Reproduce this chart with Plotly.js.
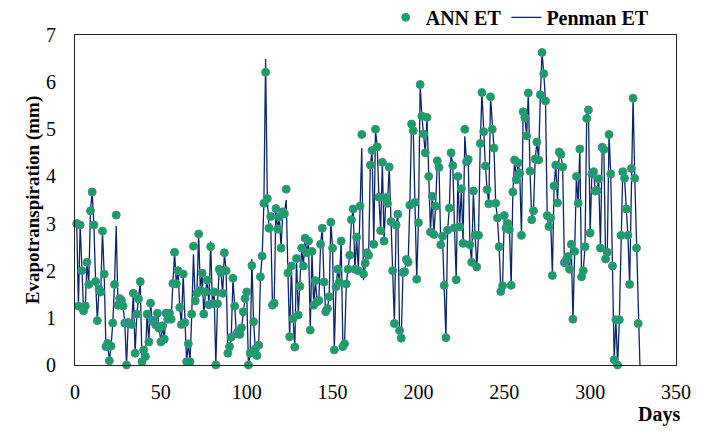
<!DOCTYPE html>
<html>
<head>
<meta charset="utf-8">
<script src="https://cdn.plot.ly/plotly-3.0.1.min.js"></script>
<style>
  body { margin: 0; background: #fff; }
  #chart { width: 716px; height: 434px; }
  #chart .xtick text, #chart .ytick text, #chart .g-ytitle text {
    font-family: "Liberation Serif", "Times New Roman", serif !important;
  }
</style>
</head>
<body>
<div id="chart"></div>
<script>
// daily evapotranspiration (mm)
var annET = [
  3.0, 1.25, 2.97, 2.0, 1.15, 1.25, 2.18, 1.71, 3.27, 3.67,
  2.97, 1.77, 0.94, 1.61, 1.55, 2.84, 1.93, 0.39, 0.46, 0.09,
  0.40, 0.89, 1.71, 3.18, 1.27, 1.41, 1.37, 1.25, 0.89, 0.0,
  0.9, 0.88, 0.86, 1.52, 0.25, 1.08, 1.4, 1.77, 0.07, 0.32,
  0.18, 1.08, 0.49, 1.31, 0.94, 0.94, 0.85, 1.10, 0.78, 0.49,
  0.83, 0.55, 1.10, 0.97, 1.10, 0.97, 1.73, 2.39, 1.72, 2.0,
  1.22, 0.86, 1.93, 0.9, 0.07, 0.45, 0.07, 1.08, 2.52, 1.36,
  1.52, 2.78, 1.58, 1.95, 1.08, 1.55, 1.80, 1.28, 2.51, 1.3,
  1.55, 0.0, 1.3, 2.03, 1.96, 1.52, 2.38, 2.0, 0.25, 0.39,
  0.59, 1.84, 1.25, 0.66, 0.71, 0.65, 0.79, 1.13, 1.41, 1.55,
  0.0, 0.25, 2.11, 0.92, 0.34, 0.2, 0.42, 1.87, 2.31, 3.43,
  6.21, 3.53, 2.9, 3.15, 1.27, 1.31, 3.32, 2.88, 3.14, 2.48,
  3.25, 3.21, 3.73, 1.95, 0.6, 2.1, 0.98, 0.38, 2.26, 1.06,
  1.67, 2.48, 2.1, 2.69, 2.38, 2.63, 0.74, 2.41, 1.27, 1.79,
  1.34, 1.37, 2.56, 2.9, 1.76, 1.13, 1.2, 1.45, 3.03, 2.48,
  0.32, 1.66, 2.03, 1.76, 2.63, 0.39, 0.45, 1.72, 2.03, 2.33,
  3.08, 3.31, 2.03, 2.71, 2.0, 3.37, 4.89, 1.93, 2.16, 2.38,
  2.33, 4.24, 4.55, 2.56, 5.0, 4.63, 3.56, 2.85, 4.3, 2.63,
  3.55, 3.43, 4.20, 3.04, 2.0, 0.88, 2.97, 3.2, 0.73, 0.57,
  1.96, 1.98, 2.24, 2.18, 3.39, 5.11, 4.97, 3.45, 1.82, 3.02,
  5.95, 5.28, 4.9, 4.5, 5.25, 4.0, 2.82, 3.58, 2.77, 3.37,
  4.33, 4.19, 2.55, 2.73, 1.69, 0.58, 2.86, 3.33, 4.5, 4.23,
  2.91, 1.81, 4.0, 2.93, 3.74, 2.58, 5.0, 4.31, 4.36, 2.55,
  2.18, 3.69, 2.75, 2.08, 2.75, 4.7, 5.78, 4.95, 4.22, 3.72,
  3.42, 5.69, 5.0, 4.6, 3.43, 3.12, 2.51, 1.56, 1.68, 3.17,
  2.9, 3.0, 2.87, 1.69, 3.67, 4.35, 3.93, 4.29, 4.07, 2.75,
  5.37, 5.25, 4.86, 5.77, 4.11, 3.08, 3.27, 4.37, 4.73, 4.35,
  5.73, 6.63, 6.18, 5.6, 3.17, 2.94, 3.12, 1.9, 3.8, 4.24,
  3.44, 4.52, 4.47, 4.2, 2.17, 2.22, 2.3, 2.03, 2.56, 0.97,
  2.41, 4.0, 3.43, 4.58, 1.87, 2.0, 2.51, 5.23, 5.41, 2.8,
  4.05, 4.1, 3.69, 3.7, 3.95, 2.48, 4.62, 4.57, 2.25, 2.39,
  4.89, 4.05, 2.1, 0.11, 0.96, 0.0, 0.96, 2.75, 4.1, 3.96,
  3.31, 2.75, 1.71, 4.17, 5.66, 3.96, 2.48, 0.88, null
];

var penmanET = [
  3.0, 1.25, 2.97, 2.0, 1.15, 1.25, 2.18, 1.71, 3.27, 3.67,
  2.97, 1.77, 0.94, 1.61, 1.55, 2.84, 1.93, 0.39, 0.46, 0.09,
  0.40, 0.89, 1.71, 2.95, 1.27, 1.41, 1.37, 1.25, 0.89, 0.0,
  0.9, 0.88, 0.86, 1.52, 0.25, 1.08, 1.4, 1.77, 0.07, 0.32,
  0.18, 1.08, 0.49, 1.31, 0.94, 0.94, 0.85, 1.10, 0.78, 0.49,
  0.83, 0.55, 1.10, 0.97, 1.10, 0.97, 1.73, 2.39, 1.72, 2.0,
  1.22, 0.86, 1.93, 0.9, 0.07, 0.45, 0.07, 1.08, 2.35, 1.36,
  1.52, 2.78, 1.58, 1.95, 1.08, 1.55, 1.80, 1.28, 2.62, 1.3,
  1.55, 0.0, 1.3, 2.03, 1.96, 1.52, 2.38, 2.0, 0.25, 0.39,
  0.59, 1.84, 1.25, 0.66, 0.71, 0.65, 0.79, 1.13, 1.41, 1.55,
  0.0, 0.25, 2.25, 0.92, 0.34, 0.2, 0.42, 1.87, 2.31, 3.43,
  6.49, 3.53, 2.9, 3.0, 1.27, 1.31, 3.32, 2.88, 3.14, 2.48,
  3.25, 3.21, 3.5, 1.95, 0.6, 2.1, 0.98, 0.38, 2.26, 1.06,
  1.67, 2.48, 2.1, 2.69, 2.38, 2.63, 0.74, 2.41, 1.27, 1.79,
  1.34, 1.37, 2.56, 2.9, 1.76, 1.13, 1.2, 1.45, 3.03, 2.48,
  0.32, 1.66, 2.03, 1.76, 2.63, 0.39, 0.45, 1.72, 2.03, 2.33,
  3.08, 3.31, 2.03, 2.71, 2.0, 3.37, 4.6, 1.8, 2.16, 2.38,
  2.33, 4.24, 4.55, 2.56, 5.0, 4.63, 3.56, 2.85, 4.3, 2.63,
  3.55, 3.43, 4.20, 3.04, 2.0, 0.88, 2.97, 3.2, 0.73, 0.57,
  1.96, 1.98, 2.24, 2.18, 3.39, 5.11, 4.97, 3.45, 1.82, 3.02,
  5.95, 5.28, 4.9, 4.5, 5.25, 4.0, 2.82, 3.58, 2.77, 3.37,
  4.33, 4.19, 2.55, 2.73, 1.69, 0.58, 2.86, 3.33, 4.5, 4.23,
  2.91, 1.81, 4.0, 2.93, 3.74, 2.58, 4.85, 4.31, 4.36, 2.55,
  2.18, 3.69, 2.75, 2.08, 2.75, 4.7, 5.78, 4.95, 4.22, 3.72,
  3.42, 5.69, 5.0, 4.6, 3.43, 3.12, 2.51, 1.56, 1.68, 3.17,
  2.9, 3.0, 2.87, 1.69, 3.67, 4.35, 3.93, 4.29, 4.07, 2.75,
  5.37, 5.25, 4.86, 5.77, 4.11, 3.08, 3.27, 4.37, 4.73, 4.35,
  5.73, 6.63, 6.18, 5.6, 3.17, 2.94, 3.12, 1.9, 3.8, 4.24,
  3.44, 4.52, 4.47, 4.2, 2.17, 2.22, 2.3, 2.03, 2.56, 0.97,
  2.41, 4.0, 3.43, 4.58, 1.87, 2.0, 2.51, 5.23, 5.41, 2.8,
  4.05, 4.1, 3.69, 3.7, 3.95, 2.48, 4.62, 4.57, 2.25, 2.39,
  4.89, 4.05, 2.1, 0.11, 0.96, 0.0, 0.96, 2.75, 4.1, 3.96,
  3.31, 2.75, 1.71, 4.17, 5.66, 3.96, 2.48, 0.88, 0.0
];

var days = [];
for (var i = 1; i <= penmanET.length; i++) days.push(i);

var serif = "Liberation Serif";

var trace1 = {
  x: days,
  y: annET,
  name: "ANN ET",
  mode: "markers",
  type: "scatter",
  cliponaxis: false,
  marker: { color: "#10a552", size: 8, line: { color: "#4f81bd", width: 1 } }
};

var trace2 = {
  x: days,
  y: penmanET,
  name: "Penman ET",
  mode: "lines",
  type: "scatter",
  line: { color: "#0b2569", width: 1.3 }
};

var data = [trace2, trace1];

var layout = {
  width: 716,
  height: 434,
  margin: { l: 75, r: 40, t: 35, b: 69, autoexpand: false },
  paper_bgcolor: "#fff",
  plot_bgcolor: "#fff",
  font: { family: serif, size: 19, color: "#000" },
  showlegend: true,
  legend: {
    orientation: "h",
    traceorder: "reversed",
    x: 0.517, xanchor: "left",
    yref: "container",
    y: 0.96, yanchor: "middle",
    font: { family: serif, size: 20, weight: "bold", color: "#000" },
    bgcolor: "rgba(0,0,0,0)"
  },
  xaxis: {
    range: [0, 350],
    dtick: 50,
    showgrid: false,
    zeroline: false,
    showline: true,
    mirror: true,
    linecolor: "#222",
    linewidth: 1,
    ticks: "",
    ticklabelstandoff: 9,
    tickfont: { family: serif, size: 20, color: "#000" }
  },
  yaxis: {
    range: [0, 7],
    dtick: 1,
    showgrid: false,
    zeroline: false,
    showline: true,
    mirror: true,
    linecolor: "#222",
    linewidth: 1,
    ticks: "",
    ticklabelstandoff: 14,
    tickfont: { family: serif, size: 20, color: "#000" },
    title: { text: "Evapotranspiration (mm)", font: { family: serif, size: 19, weight: "bold", color: "#000" }, standoff: 1 }
  },
  annotations: [{
    text: "Days",
    xref: "paper", yref: "paper",
    x: 0.972, y: -0.15,
    xanchor: "center", yanchor: "middle",
    showarrow: false,
    font: { family: serif, size: 20, weight: "bold", color: "#000" }
  }]
};

Plotly.newPlot("chart", data, layout, { displayModeBar: false });
</script>
</body>
</html>
